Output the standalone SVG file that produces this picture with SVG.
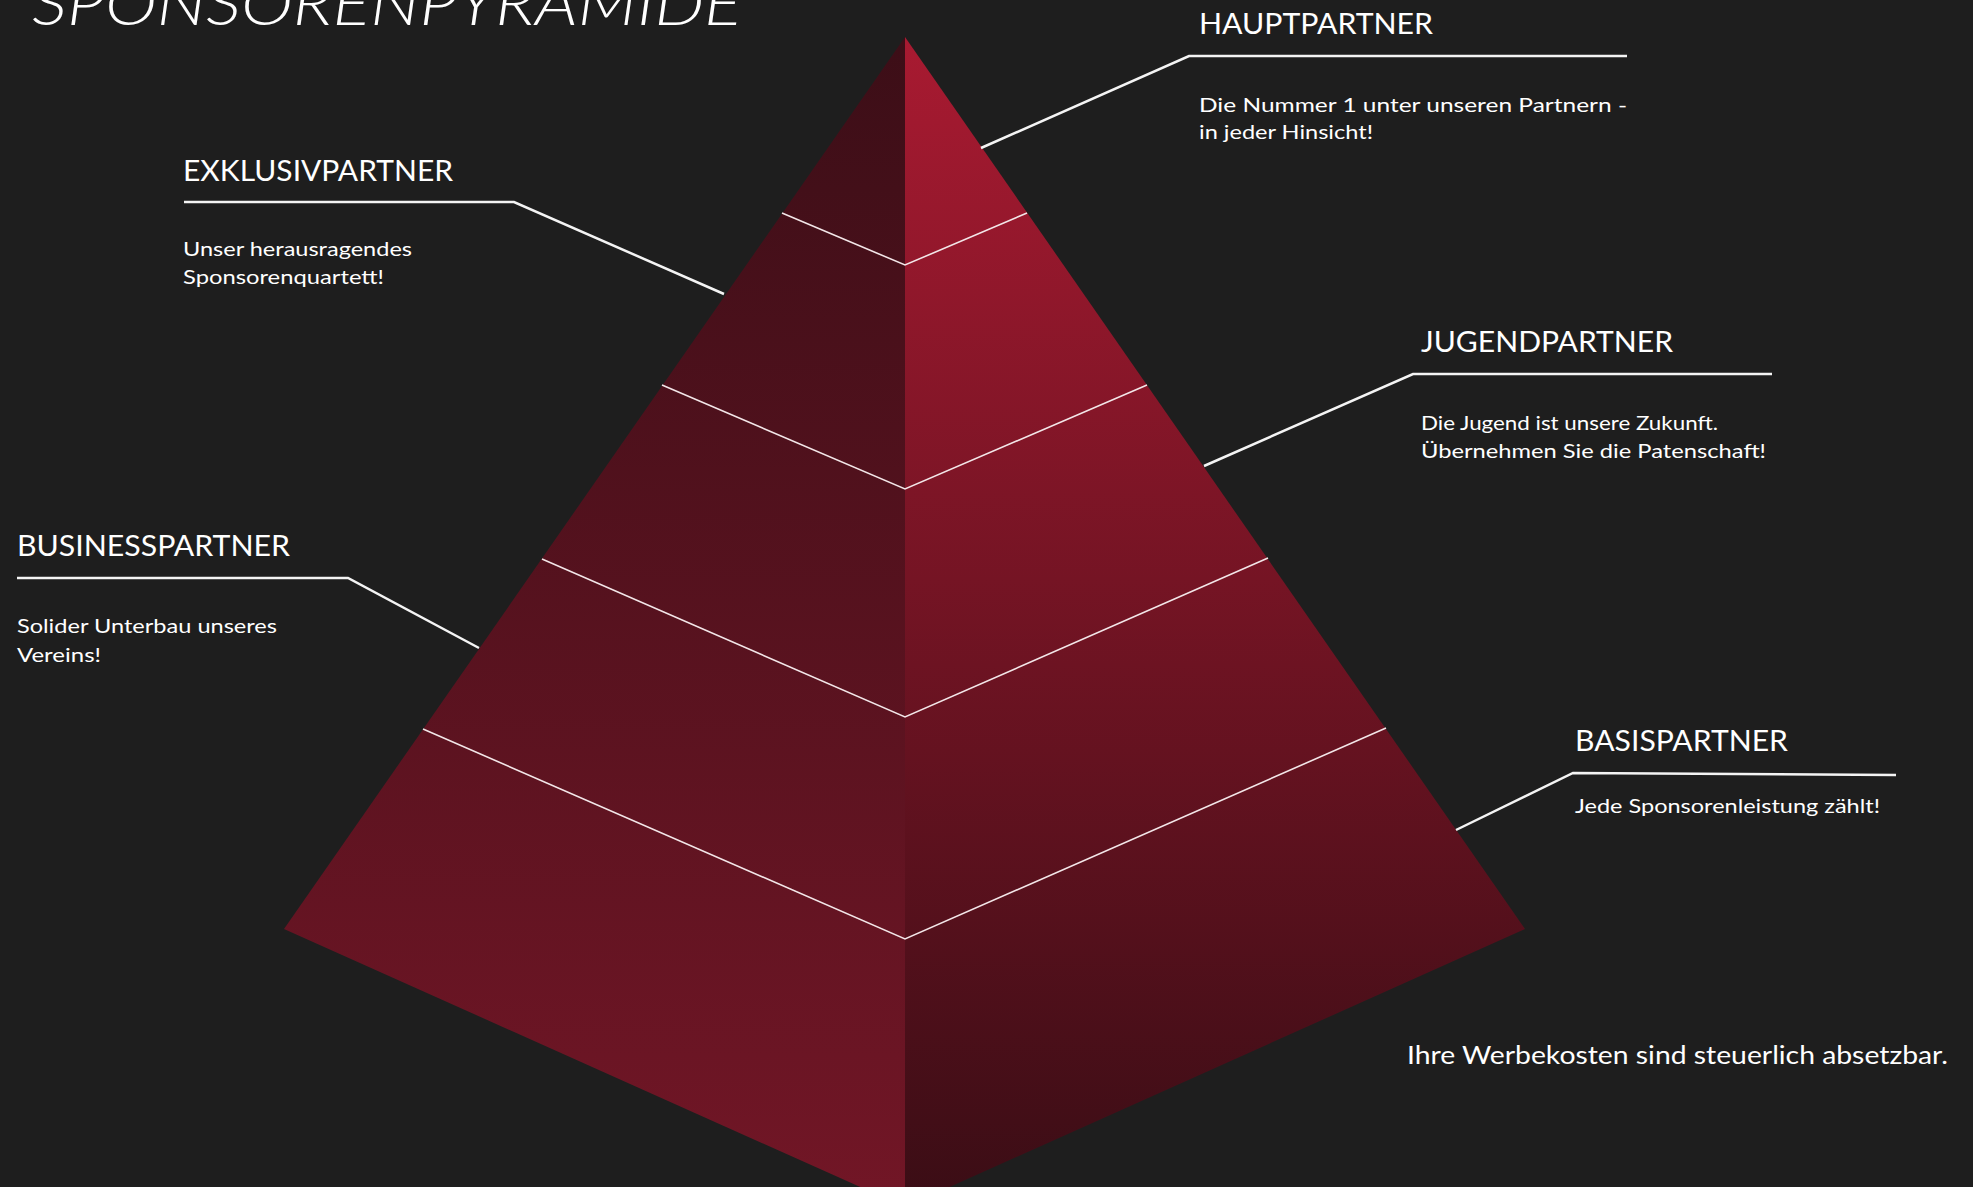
<svg xmlns="http://www.w3.org/2000/svg" width="1973" height="1187" viewBox="0 0 1973 1187">
<style>
.h{font-family:Lato,"Open Sans","Liberation Sans",sans-serif;font-size:29px;fill:#ffffff;}
.b{font-family:Lato,"Open Sans","Liberation Sans",sans-serif;font-size:20px;fill:#ffffff;}
.f{font-family:Lato,"Open Sans","Liberation Sans",sans-serif;font-size:25px;fill:#ffffff;}
.t{font-family:Lato,"Open Sans","Liberation Sans",sans-serif;font-size:62px;font-style:italic;font-weight:300;fill:#ffffff;}
.c{fill:none;stroke:#f4f4f4;stroke-width:2.5;stroke-linejoin:miter;}
.band{fill:none;stroke:#f3e6e8;stroke-width:1.6;}
</style>
<defs>
<linearGradient id="gl" gradientUnits="userSpaceOnUse" x1="0" y1="37" x2="0" y2="1207">
<stop offset="0" stop-color="#3c0e17"/>
<stop offset="1" stop-color="#721626"/>
</linearGradient>
<linearGradient id="gr" gradientUnits="userSpaceOnUse" x1="0" y1="37" x2="0" y2="1207">
<stop offset="0" stop-color="#a81a31"/>
<stop offset="1" stop-color="#3a0d15"/>
</linearGradient>
</defs>
<rect x="0" y="0" width="1973" height="1187" fill="#1e1e1e"/>
<text class="t" x="32" y="25" textLength="710" lengthAdjust="spacingAndGlyphs">SPONSORENPYRAMIDE</text>
<g id="pyramid">
<polygon points="905,37 284,929 905,1207" fill="url(#gl)"/>
<polygon points="905,37 1525,929 905,1207" fill="url(#gr)"/>
<polyline class="band" points="782,213 905,265 1027,213"/>
<polyline class="band" points="662,385 905,489 1147,385"/>
<polyline class="band" points="542,559 905,717 1268,558"/>
<polyline class="band" points="423,729 905,939 1386,728"/>
</g>
<g id="connectors">
<polyline class="c" points="981,148 1189,56 1627,56"/>
<polyline class="c" points="724,294 514,202 184,202"/>
<polyline class="c" points="479,648 348,578 17,578"/>
<polyline class="c" points="1204,466 1413,374 1772,374"/>
<polyline class="c" points="1456,830 1573,773 1896,775"/>
</g>
<g id="hauptpartner">
<text class="h" x="1199" y="34" textLength="234" lengthAdjust="spacingAndGlyphs">HAUPTPARTNER</text>
<text class="b" x="1199" y="112" textLength="428" lengthAdjust="spacingAndGlyphs">Die Nummer 1 unter unseren Partnern -</text>
<text class="b" x="1199" y="139" textLength="174" lengthAdjust="spacingAndGlyphs">in jeder Hinsicht!</text>
</g>
<g id="exklusivpartner">
<text class="h" x="183" y="181" textLength="270" lengthAdjust="spacingAndGlyphs">EXKLUSIVPARTNER</text>
<text class="b" x="183" y="256" textLength="229" lengthAdjust="spacingAndGlyphs">Unser herausragendes</text>
<text class="b" x="183" y="284" textLength="201" lengthAdjust="spacingAndGlyphs">Sponsorenquartett!</text>
</g>
<g id="businesspartner">
<text class="h" x="17" y="556" textLength="273" lengthAdjust="spacingAndGlyphs">BUSINESSPARTNER</text>
<text class="b" x="17" y="633" textLength="260" lengthAdjust="spacingAndGlyphs">Solider Unterbau unseres</text>
<text class="b" x="17" y="662" textLength="84" lengthAdjust="spacingAndGlyphs">Vereins!</text>
</g>
<g id="jugendpartner">
<text class="h" x="1421" y="352" textLength="252" lengthAdjust="spacingAndGlyphs">JUGENDPARTNER</text>
<text class="b" x="1421" y="430" textLength="297" lengthAdjust="spacingAndGlyphs">Die Jugend ist unsere Zukunft.</text>
<text class="b" x="1421" y="458" textLength="345" lengthAdjust="spacingAndGlyphs">Übernehmen Sie die Patenschaft!</text>
</g>
<g id="basispartner">
<text class="h" x="1575" y="751" textLength="213" lengthAdjust="spacingAndGlyphs">BASISPARTNER</text>
<text class="b" x="1575" y="813" textLength="305" lengthAdjust="spacingAndGlyphs">Jede Sponsorenleistung zählt!</text>
</g>
<g id="footer">
<text class="f" x="1407" y="1064" textLength="541" lengthAdjust="spacingAndGlyphs">Ihre Werbekosten sind steuerlich absetzbar.</text>
</g>
</svg>
